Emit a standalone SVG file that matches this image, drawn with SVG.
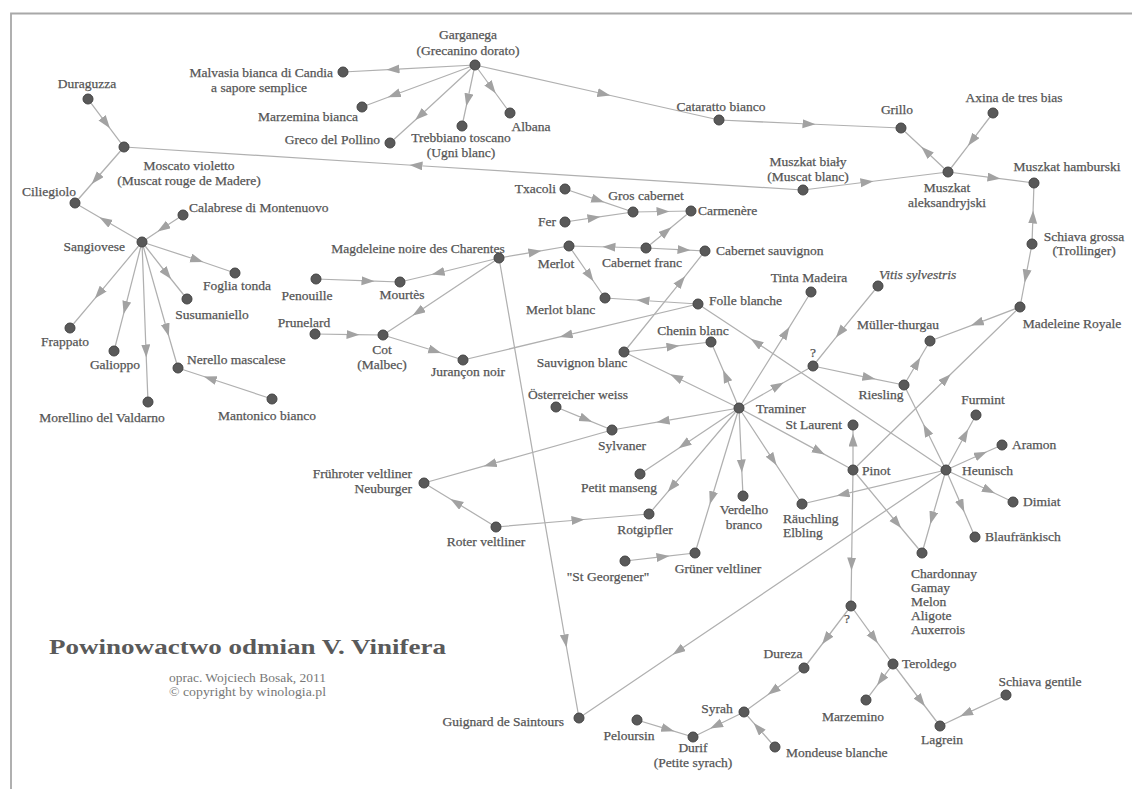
<svg xmlns="http://www.w3.org/2000/svg" width="1132" height="789" viewBox="0 0 1132 789">
<defs>
<marker id="ar" markerWidth="14" markerHeight="10" refX="6.5" refY="4.5" orient="auto" markerUnits="userSpaceOnUse"><path d="M0,0 L13,4.5 L0,9 z" fill="#a2a2a2"/></marker>
<style>
.l{font-family:"Liberation Serif","Times New Roman",serif;font-size:13.5px;fill:#555;stroke:#555;stroke-width:0.25px}
.m{text-anchor:middle}.e{text-anchor:end}
.i{font-style:italic}
circle{fill:#595959;stroke:#444;stroke-width:1}
#edges path{fill:none;stroke:#b0b0b0;stroke-width:1.25;marker-mid:url(#ar)}
</style>
</defs>
<rect width="1132" height="789" fill="#fff"/>
<path d="M11,789 V13.5 H1132" fill="none" stroke="#a8a8a8" stroke-width="1.8"/>
<g id="edges">
<path d="M88,99 L106,123 L124,147"/>
<path d="M124,147 L96,179 L75,203"/>
<path d="M142,242 L105,220.5 L75,203"/>
<path d="M183,215 L163,228 L142,242"/>
<path d="M142,242 L197,260 L235,273"/>
<path d="M142,242 L167,274 L187,299"/>
<path d="M142,242 L99,293.6 L70,328"/>
<path d="M142,242 L125.2,307.6 L114,351"/>
<path d="M142,242 L146,351 L148,402"/>
<path d="M142,242 L167,330 L178,368"/>
<path d="M272,399 L210,378.5 L178,368"/>
<path d="M803,190 L416,165.5 L124,147"/>
<path d="M803,190 L867,182 L948,172"/>
<path d="M993,113 L972,140.7 L948,172"/>
<path d="M948,172 L926,151.3 L901,128"/>
<path d="M719,120 L809,124 L901,128"/>
<path d="M475,65 L604,94 L719,120"/>
<path d="M475,65 L393,69.3 L343,72"/>
<path d="M475,65 L394,95 L362,107"/>
<path d="M475,65 L420,115.7 L390,143"/>
<path d="M475,65 L467.6,100 L462,126"/>
<path d="M475,65 L491.8,88 L510,113"/>
<path d="M948,172 L994,177.9 L1034,183"/>
<path d="M1032,244 L1032.9,217 L1034,183"/>
<path d="M1032,244 L1025.9,276 L1020,307"/>
<path d="M1020,307 L977,323.3 L930,341"/>
<path d="M904,385 L917,363 L930,341"/>
<path d="M813,366 L869,377.8 L904,385"/>
<path d="M946,470 L926.3,430 L904,385"/>
<path d="M739,408 L778,385.7 L813,366"/>
<path d="M878,286 L840,332.4 L813,366"/>
<path d="M853,470 L946,378.7 L1020,307"/>
<path d="M946,470 L965,435 L976,415"/>
<path d="M946,470 L981,454.3 L1002,445"/>
<path d="M946,470 L989,490.5 L1013,502"/>
<path d="M946,470 L961.7,506 L975,537"/>
<path d="M946,470 L932,518 L922,553"/>
<path d="M853,470 L897,523 L922,553"/>
<path d="M946,470 L843,494.3 L802,504"/>
<path d="M946,470 L678,651 L579,718"/>
<path d="M946,470 L756,342.3 L698,304"/>
<path d="M698,304 L643,300.5 L605,298"/>
<path d="M569,246 L589.8,276 L605,298"/>
<path d="M698,304 L566,335.4 L463,360"/>
<path d="M383,335 L435,351 L463,360"/>
<path d="M315,334 L353,334.6 L383,335"/>
<path d="M499,258 L418,312 L383,335"/>
<path d="M499,258 L438,273 L400,282"/>
<path d="M316,279 L368,280.9 L400,282"/>
<path d="M499,258 L535,251.9 L569,246"/>
<path d="M646,248 L609,247 L569,246"/>
<path d="M646,248 L684,249.9 L705,251"/>
<path d="M646,248 L666.3,231.4 L691,211"/>
<path d="M633,212 L663,211.5 L691,211"/>
<path d="M565,189 L598,200.2 L633,212"/>
<path d="M565,222 L594,217.7 L633,212"/>
<path d="M624,352 L681,281.3 L705,251"/>
<path d="M624,352 L673,346.4 L711,342"/>
<path d="M739,408 L725.6,376 L711,342"/>
<path d="M739,408 L676,377.2 L624,352"/>
<path d="M739,408 L786,332.6 L811,292"/>
<path d="M739,408 L663,421.2 L612,430"/>
<path d="M556,407 L586,419.4 L612,430"/>
<path d="M612,430 L490,464.4 L424,483"/>
<path d="M496,527 L456,502.5 L424,483"/>
<path d="M496,527 L578,520 L649,514"/>
<path d="M739,408 L672,486.8 L649,514"/>
<path d="M739,408 L684,444.7 L640,474"/>
<path d="M739,408 L711.7,498 L695,553"/>
<path d="M625,561 L663,556.7 L695,553"/>
<path d="M739,408 L741.6,466 L743,496"/>
<path d="M739,408 L773,459.8 L802,504"/>
<path d="M739,408 L819,451.4 L853,470"/>
<path d="M853,470 L853,440 L853,425"/>
<path d="M853,470 L851.6,564 L851,606"/>
<path d="M851,606 L874,637.9 L893,664"/>
<path d="M851,606 L826,639 L804,668"/>
<path d="M893,664 L881,680 L866,700"/>
<path d="M893,664 L921,701 L940,726"/>
<path d="M1006,695 L966,713.6 L940,726"/>
<path d="M804,668 L773,690.9 L744,712"/>
<path d="M775,747 L758,727.8 L744,712"/>
<path d="M744,712 L716,725.7 L693,737"/>
<path d="M637,720 L668,729.4 L693,737"/>
<path d="M499,258 L565.4,641 L579,718"/>
</g>
<g id="n-duraguzza"><circle cx="88" cy="99" r="5"/><text class="l m" x="87" y="87.5">Duraguzza</text></g>
<g id="n-moscato"><circle cx="124" cy="147" r="5"/><text class="l m" x="189" y="169.5">Moscato violetto</text><text class="l m" x="189" y="184.5">(Muscat rouge de Madere)</text></g>
<g id="n-ciliegiolo"><circle cx="75" cy="203" r="5"/><text class="l e" x="76" y="196">Ciliegiolo</text></g>
<g id="n-calabrese"><circle cx="183" cy="215" r="5"/><text class="l" x="189" y="211.5">Calabrese di Montenuovo</text></g>
<g id="n-sangiovese"><circle cx="142" cy="242" r="5"/><text class="l e" x="125" y="251">Sangiovese</text></g>
<g id="n-foglia"><circle cx="235" cy="273" r="5"/><text class="l m" x="237" y="290">Foglia tonda</text></g>
<g id="n-susumaniello"><circle cx="187" cy="299" r="5"/><text class="l m" x="212" y="319">Susumaniello</text></g>
<g id="n-frappato"><circle cx="70" cy="328" r="5"/><text class="l m" x="65" y="346">Frappato</text></g>
<g id="n-galioppo"><circle cx="114" cy="351" r="5"/><text class="l m" x="115" y="369">Galioppo</text></g>
<g id="n-morellino"><circle cx="148" cy="402" r="5"/><text class="l m" x="102" y="422">Morellino del Valdarno</text></g>
<g id="n-nerello"><circle cx="178" cy="368" r="5"/><text class="l" x="187" y="364">Nerello mascalese</text></g>
<g id="n-mantonico"><circle cx="272" cy="399" r="5"/><text class="l m" x="267" y="420">Mantonico bianco</text></g>
<g id="n-garganega"><circle cx="475" cy="65" r="5"/><text class="l m" x="468" y="38.5">Garganega</text><text class="l m" x="468" y="54.5">(Grecanino dorato)</text></g>
<g id="n-malvasia"><circle cx="343" cy="72" r="5"/><text class="l e" x="333" y="77">Malvasia bianca di Candia</text><text class="l m" x="259" y="92">a sapore semplice</text></g>
<g id="n-marzemina"><circle cx="362" cy="107" r="5"/><text class="l e" x="358" y="121">Marzemina bianca</text></g>
<g id="n-greco"><circle cx="390" cy="143" r="5"/><text class="l e" x="380" y="144">Greco del Pollino</text></g>
<g id="n-trebbiano"><circle cx="462" cy="126" r="5"/><text class="l m" x="461" y="142">Trebbiano toscano</text><text class="l m" x="461" y="157">(Ugni blanc)</text></g>
<g id="n-albana"><circle cx="510" cy="113" r="5"/><text class="l m" x="531" y="131">Albana</text></g>
<g id="n-cataratto"><circle cx="719" cy="120" r="5"/><text class="l m" x="721" y="111">Cataratto bianco</text></g>
<g id="n-grillo"><circle cx="901" cy="128" r="5"/><text class="l m" x="897" y="114">Grillo</text></g>
<g id="n-axina"><circle cx="993" cy="113" r="5"/><text class="l m" x="1014" y="102">Axina de tres bias</text></g>
<g id="n-muszkatal"><circle cx="948" cy="172" r="5"/><text class="l m" x="947" y="192">Muszkat</text><text class="l m" x="947" y="207">aleksandryjski</text></g>
<g id="n-hamburski"><circle cx="1034" cy="183" r="5"/><text class="l m" x="1067" y="171">Muszkat hamburski</text></g>
<g id="n-bialy"><circle cx="803" cy="190" r="5"/><text class="l m" x="808" y="166">Muszkat biały</text><text class="l m" x="808" y="181">(Muscat blanc)</text></g>
<g id="n-schiavagrossa"><circle cx="1032" cy="244" r="5"/><text class="l m" x="1084" y="240.5">Schiava grossa</text><text class="l m" x="1084" y="255">(Trollinger)</text></g>
<g id="n-madroyale"><circle cx="1020" cy="307" r="5"/><text class="l m" x="1072" y="328">Madeleine Royale</text></g>
<g id="n-muller"><circle cx="930" cy="341" r="5"/><text class="l m" x="898" y="329">Müller-thurgau</text></g>
<g id="n-riesling"><circle cx="904" cy="385" r="5"/><text class="l m" x="881" y="399">Riesling</text></g>
<g id="n-vitis"><circle cx="878" cy="286" r="5"/><text class="l i" x="879" y="278.5">Vitis sylvestris</text></g>
<g id="n-q1"><circle cx="813" cy="366" r="5"/><text class="l m" x="813" y="357">?</text></g>
<g id="n-tinta"><circle cx="811" cy="292" r="5"/><text class="l m" x="809" y="282">Tinta Madeira</text></g>
<g id="n-traminer"><circle cx="739" cy="408" r="5"/><text class="l" x="756" y="412.5">Traminer</text></g>
<g id="n-stlaurent"><circle cx="853" cy="425" r="5"/><text class="l e" x="842" y="428.5">St Laurent</text></g>
<g id="n-pinot"><circle cx="853" cy="470" r="5"/><text class="l" x="862" y="474.5">Pinot</text></g>
<g id="n-heunisch"><circle cx="946" cy="470" r="5"/><text class="l" x="962" y="474.5">Heunisch</text></g>
<g id="n-furmint"><circle cx="976" cy="415" r="5"/><text class="l m" x="983" y="404">Furmint</text></g>
<g id="n-aramon"><circle cx="1002" cy="445" r="5"/><text class="l" x="1012" y="449">Aramon</text></g>
<g id="n-dimiat"><circle cx="1013" cy="502" r="5"/><text class="l" x="1023" y="506">Dimiat</text></g>
<g id="n-blaufrankisch"><circle cx="975" cy="537" r="5"/><text class="l" x="985" y="541">Blaufränkisch</text></g>
<g id="n-chardonnay"><circle cx="922" cy="553" r="5"/><text class="l" x="911" y="578">Chardonnay</text><text class="l" x="911" y="592">Gamay</text><text class="l" x="911" y="606">Melon</text><text class="l" x="911" y="620">Aligote</text><text class="l" x="911" y="634">Auxerrois</text></g>
<g id="n-q2"><circle cx="851" cy="606" r="5"/><text class="l m" x="847" y="623">?</text></g>
<g id="n-teroldego"><circle cx="893" cy="664" r="5"/><text class="l" x="902" y="668">Teroldego</text></g>
<g id="n-marzemino"><circle cx="866" cy="700" r="5"/><text class="l m" x="853" y="720.5">Marzemino</text></g>
<g id="n-lagrein"><circle cx="940" cy="726" r="5"/><text class="l m" x="942" y="744">Lagrein</text></g>
<g id="n-schiavagentile"><circle cx="1006" cy="695" r="5"/><text class="l m" x="1040" y="686">Schiava gentile</text></g>
<g id="n-dureza"><circle cx="804" cy="668" r="5"/><text class="l m" x="783" y="658">Dureza</text></g>
<g id="n-syrah"><circle cx="744" cy="712" r="5"/><text class="l m" x="717" y="713">Syrah</text></g>
<g id="n-mondeuse"><circle cx="775" cy="747" r="5"/><text class="l" x="786" y="757">Mondeuse blanche</text></g>
<g id="n-durif"><circle cx="693" cy="737" r="5"/><text class="l m" x="693" y="752">Durif</text><text class="l m" x="693" y="767">(Petite syrach)</text></g>
<g id="n-peloursin"><circle cx="637" cy="720" r="5"/><text class="l m" x="629" y="740">Peloursin</text></g>
<g id="n-guignard"><circle cx="579" cy="718" r="5"/><text class="l e" x="564" y="726">Guignard de Saintours</text></g>
<g id="n-gruner"><circle cx="695" cy="553" r="5"/><text class="l m" x="718" y="573">Grüner veltliner</text></g>
<g id="n-stgeorgener"><circle cx="625" cy="561" r="5"/><text class="l m" x="608" y="581">"St Georgener"</text></g>
<g id="n-rotgipfler"><circle cx="649" cy="514" r="5"/><text class="l m" x="645" y="534">Rotgipfler</text></g>
<g id="n-verdelho"><circle cx="743" cy="496" r="5"/><text class="l m" x="744" y="514">Verdelho</text><text class="l m" x="744" y="529">branco</text></g>
<g id="n-rauchling"><circle cx="802" cy="504" r="5"/><text class="l" x="783" y="523">Räuchling</text><text class="l" x="783" y="537">Elbling</text></g>
<g id="n-petitmanseng"><circle cx="640" cy="474" r="5"/><text class="l m" x="619" y="491.5">Petit manseng</text></g>
<g id="n-sylvaner"><circle cx="612" cy="430" r="5"/><text class="l m" x="622" y="449.5">Sylvaner</text></g>
<g id="n-osterreicher"><circle cx="556" cy="407" r="5"/><text class="l m" x="578" y="399">Österreicher weiss</text></g>
<g id="n-fruhroter"><circle cx="424" cy="483" r="5"/><text class="l e" x="412" y="478">Frühroter veltliner</text><text class="l e" x="412" y="493">Neuburger</text></g>
<g id="n-roter"><circle cx="496" cy="527" r="5"/><text class="l m" x="486" y="546">Roter veltliner</text></g>
<g id="n-sauvblanc"><circle cx="624" cy="352" r="5"/><text class="l m" x="582" y="367">Sauvignon blanc</text></g>
<g id="n-chenin"><circle cx="711" cy="342" r="5"/><text class="l m" x="693" y="334.5">Chenin blanc</text></g>
<g id="n-merlotblanc"><circle cx="605" cy="298" r="5"/><text class="l" x="526" y="314">Merlot blanc</text></g>
<g id="n-folle"><circle cx="698" cy="304" r="5"/><text class="l" x="709" y="304.5">Folle blanche</text></g>
<g id="n-merlot"><circle cx="569" cy="246" r="5"/><text class="l m" x="556" y="268">Merlot</text></g>
<g id="n-cabfranc"><circle cx="646" cy="248" r="5"/><text class="l m" x="642" y="267">Cabernet franc</text></g>
<g id="n-cabsauv"><circle cx="705" cy="251" r="5"/><text class="l" x="716" y="255">Cabernet sauvignon</text></g>
<g id="n-carmenere"><circle cx="691" cy="211" r="5"/><text class="l" x="698" y="215">Carmenère</text></g>
<g id="n-groscab"><circle cx="633" cy="212" r="5"/><text class="l m" x="646" y="200">Gros cabernet</text></g>
<g id="n-txacoli"><circle cx="565" cy="189" r="5"/><text class="l e" x="556" y="193">Txacoli</text></g>
<g id="n-fer"><circle cx="565" cy="222" r="5"/><text class="l e" x="556" y="226">Fer</text></g>
<g id="n-magdeleine"><circle cx="499" cy="258" r="5"/><text class="l m" x="418" y="252.5">Magdeleine noire des Charentes</text></g>
<g id="n-penouille"><circle cx="316" cy="279" r="5"/><text class="l m" x="307" y="300">Penouille</text></g>
<g id="n-mourtes"><circle cx="400" cy="282" r="5"/><text class="l m" x="402" y="299">Mourtès</text></g>
<g id="n-prunelard"><circle cx="315" cy="334" r="5"/><text class="l m" x="304" y="327">Prunelard</text></g>
<g id="n-cot"><circle cx="383" cy="335" r="5"/><text class="l m" x="382" y="354">Cot</text><text class="l m" x="382" y="369">(Malbec)</text></g>
<g id="n-jurancon"><circle cx="463" cy="360" r="5"/><text class="l m" x="468" y="376">Jurançon noir</text></g>
<g id="title">
<text x="49" y="654" textLength="397" lengthAdjust="spacingAndGlyphs" style="font-family:'Liberation Serif','Times New Roman',serif;font-size:22px;font-weight:bold;fill:#5a5a5a">Powinowactwo odmian V. Vinifera</text>
<text class="l" x="169" y="682" textLength="157" lengthAdjust="spacingAndGlyphs" style="font-size:12px;fill:#777;stroke:none">oprac. Wojciech Bosak, 2011</text>
<text class="l" x="169" y="696" textLength="157" lengthAdjust="spacingAndGlyphs" style="font-size:12px;fill:#777;stroke:none">© copyright by winologia.pl</text>
</g>
</svg>
